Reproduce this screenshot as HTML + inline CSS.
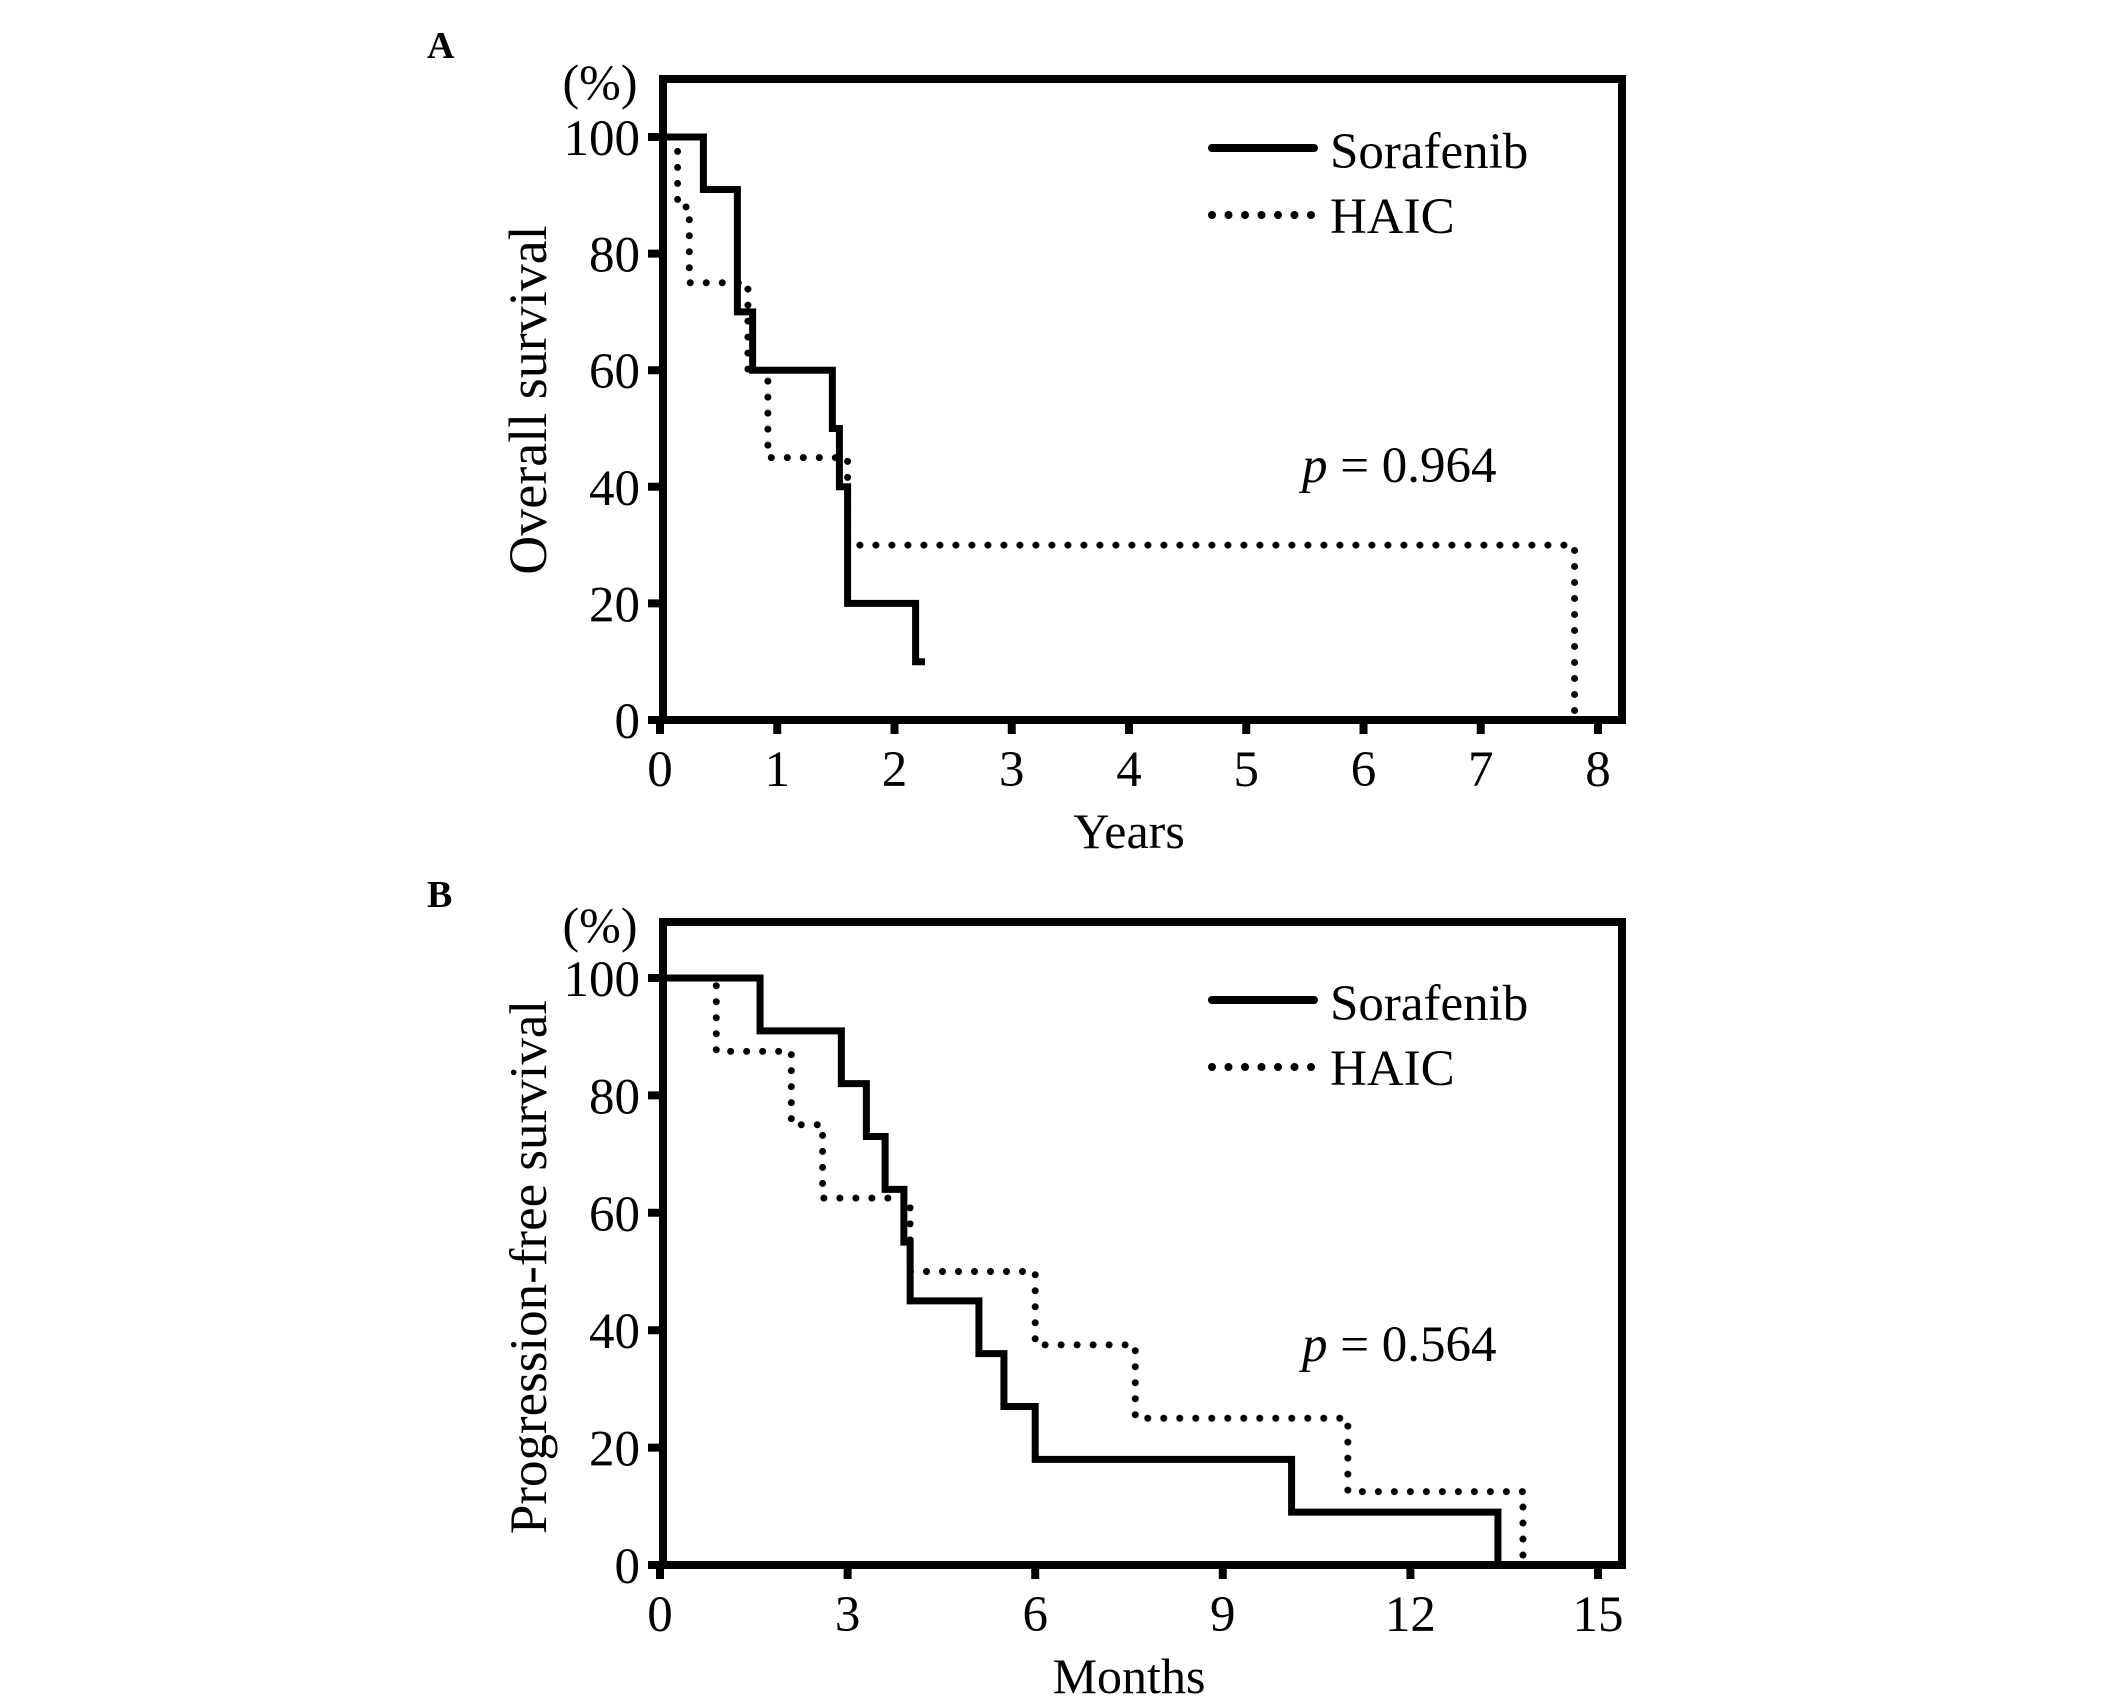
<!DOCTYPE html>
<html><head><meta charset="utf-8"><style>
html,body{margin:0;padding:0;background:#fff}
svg{display:block}
text{font-family:"Liberation Serif","Times New Roman",serif;fill:#000}
</style></head><body>
<svg id="fig" width="2126" height="1708" viewBox="0 0 2126 1708" xmlns="http://www.w3.org/2000/svg"></svg>
<script>
// Panel A data (years, % survival)
const aXTicks = [0,1,2,3,4,5,6,7,8];
const aYTicks = [0,20,40,60,80,100];
const aSoraTimes = [0,0.37,0.66,0.79,1.47,1.53,1.6,2.18];
const aSoraVals  = [100,91,70,60,50,40,20,10];
const aSoraEnd = 2.26;
const aHaicTimes = [0,0.15,0.25,0.75,0.92,1.6,7.8];
const aHaicVals  = [100,88,75,60,45,30,0];
const aHaicEnd = 7.8;
// Panel B data (months, % survival)
const bXTicks = [0,3,6,9,12,15];
const bYTicks = [0,20,40,60,80,100];
const bSoraTimes = [0,1.6,2.9,3.3,3.6,3.9,4.0,5.1,5.5,6.0,10.1,13.4];
const bSoraVals  = [100,91,82,73,64,55,45,36,27,18,9,0];
const bSoraEnd = 13.4;
const bHaicTimes = [0,0.9,2.1,2.6,4.0,6.0,7.6,11.0,13.8];
const bHaicVals  = [100,87.5,75,62.5,50,37.5,25,12.5,0];
const bHaicEnd = 13.8;

const NS="http://www.w3.org/2000/svg";
const svg=document.getElementById('fig');
function mk(tag,attrs,parent){const e=document.createElementNS(NS,tag);for(const k in attrs)e.setAttribute(k,attrs[k]);(parent||svg).appendChild(e);return e;}
function txt(s,attrs,parent){const e=mk('text',attrs,parent);e.textContent=s;return e;}

function panel(o){
  const g=mk('g',{});
  
  
  const x0=660, x1=1598, fr=1622, y0=o.y0, y100=o.y100, top=o.top;
  const sx=v=>x0+(v-o.xMin)/(o.xMax-o.xMin)*(x1-x0);
  const sy=v=>y0+(v/100)*(y100-y0);
  const f=mk('rect',{x:663,y:top,width:fr-663,height:y0-top,fill:'none',stroke:'#000','stroke-width':8},g);
  
  
  o.yTicks.forEach(t=>{
    const l=mk('line',{x1:648,x2:667,y1:sy(t),y2:sy(t),stroke:'#000','stroke-width':8},g);
    
    
    const tx=txt(String(t),{x:640,y:sy(t)+18,'font-size':51,'text-anchor':'end'},g);
    
    
  });
  o.xTicks.forEach(t=>{
    const l=mk('line',{x1:sx(t),x2:sx(t),y1:y0,y2:y0+14,stroke:'#000','stroke-width':8},g);
    
    
    const tx=txt(String(t),{x:sx(t),y:y0+66,'font-size':51,'text-anchor':'middle'},g);
    
    
  });
  function step(times,vals,end){
    let d='M'+sx(times[0])+' '+sy(vals[0]);
    for(let i=1;i<times.length;i++){d+=' H'+sx(times[i])+' V'+sy(vals[i]);}
    d+=' H'+sx(end);
    return d;
  }
  const ph=mk('path',{d:step(o.hT,o.hV,o.hE),fill:'none',stroke:'#000','stroke-width':7,'stroke-dasharray':'0 16','stroke-linecap':'round'},g);
  
  
  const ps=mk('path',{d:step(o.sT,o.sV,o.sE),fill:'none',stroke:'#000','stroke-width':7},g);
  
  
  const lo=o.legY;
  const l1=mk('line',{x1:1212,x2:1314,y1:lo,y2:lo,stroke:'#000','stroke-width':8,'stroke-linecap':'round'},g);
  
  
  const t1=txt('Sorafenib',{x:1330,y:lo+20,'font-size':51},g);
  
  
  const l2=mk('line',{x1:1212,x2:1312,y1:lo+67,y2:lo+67,stroke:'#000','stroke-width':8,'stroke-linecap':'round','stroke-dasharray':'0 16.5'},g);
  
  
  const t2=txt('HAIC',{x:1330,y:lo+85,'font-size':51},g);
  
  
  const pv=txt('',{x:1302,y:o.pY,'font-size':51},g);
  
  
  const it=document.createElementNS(NS,'tspan');it.setAttribute('font-style','italic');it.textContent='p';pv.appendChild(it);
  pv.appendChild(document.createTextNode(' = '+o.p));
  const pc=txt('(%)',{x:600,y:top+20,'font-size':50,'text-anchor':'middle'},g);
  
  
  const yt=txt(o.yTitle,{x:0,y:0,'font-size':o.yTitleSize,'text-anchor':'middle',transform:'translate(546,'+o.yTitleY+') rotate(-90)'},g);
  
  
  const xt=txt(o.xTitle,{x:1129,y:y0+128,'font-size':50,'text-anchor':'middle'},g);
  
  
  const pl=txt(o.letter,{x:427,y:o.letterY,'font-size':38,'font-weight':'bold'},g);
  
  
}
panel({name:'panel-a-overall-survival',top:79,y0:720,y100:137,xMin:0,xMax:8,xTicks:aXTicks,yTicks:aYTicks,
  sT:aSoraTimes,sV:aSoraVals,sE:aSoraEnd,hT:aHaicTimes,hV:aHaicVals,hE:aHaicEnd,
  legY:148,pY:482,p:'0.964',yTitle:'Overall survival',yTitleY:400,yTitleSize:54,xTitle:'Years',letter:'A',letterY:58});
panel({name:'panel-b-progression-free-survival',top:922,y0:1565,y100:978,xMin:0,xMax:15,xTicks:bXTicks,yTicks:bYTicks,
  sT:bSoraTimes,sV:bSoraVals,sE:bSoraEnd,hT:bHaicTimes,hV:bHaicVals,hE:bHaicEnd,
  legY:1000,pY:1361,p:'0.564',yTitle:'Progression-free survival',yTitleY:1267,yTitleSize:53,xTitle:'Months',letter:'B',letterY:907});
</script>
</body></html>
